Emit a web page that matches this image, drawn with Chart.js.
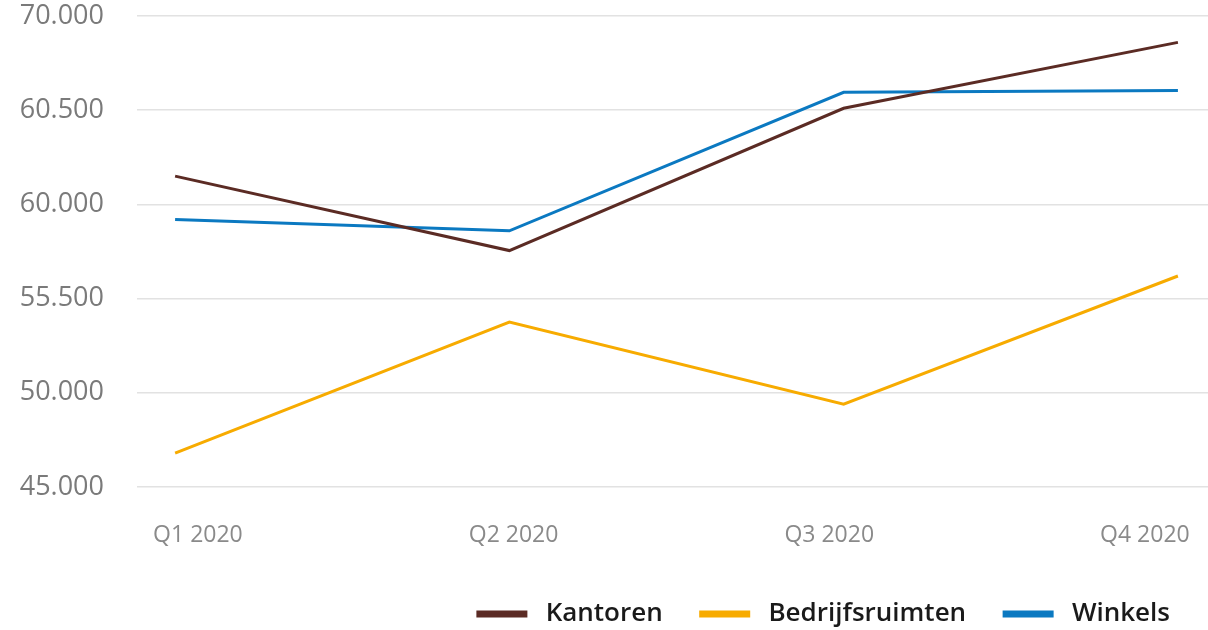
<!DOCTYPE html>
<html>
<head>
<meta charset="utf-8">
<script src="https://cdn.jsdelivr.net/npm/chart.js@4/dist/chart.umd.min.js"></script>
<style>
  html, body { margin: 0; padding: 0; background: #ffffff; }
  #wrap { width: 1208px; height: 630px; position: relative; }
</style>
</head>
<body>
<div id="wrap"><canvas id="rentChart"></canvas></div>
<script>
// chart values
var categories = ['Q1 2020', 'Q2 2020', 'Q3 2020', 'Q4 2020'];
var kantoren = [61500, 57550, 65100, 68600];
var bedrijfsruimten = [46800, 53750, 49400, 56200];
var winkels = [59200, 58600, 65950, 66050];
// tick labels exactly as printed on the original axis
var yTickValues = [45000, 50000, 55000, 60000, 65000, 70000];
var yTickLabels = ['45.000', '50.000', '55.500', '60.000', '60.500', '70.000'];

function toPoints(values) {
    return values.map(function (v, i) { return { x: i, y: v }; });
}

function makeSet(label, values, color) {
    return {
        label: label,
        data: toPoints(values),
        borderColor: color,
        backgroundColor: color,
        borderWidth: 3,
        pointRadius: 0,
        tension: 0
    };
}

function categoryTick(value) {
    return Number.isInteger(value) && categories[value] ? categories[value] : '';
}

var canvas = document.getElementById('rentChart');
var ctx = canvas.getContext('2d');

window.rentChartInstance = new Chart(ctx, {
    type: 'line',
    data: {
        datasets: [
            makeSet('Kantoren', kantoren, '#5b2b24'),
            makeSet('Bedrijfsruimten', bedrijfsruimten, '#f7ab00'),
            makeSet('Winkels', winkels, '#0b79c1')
        ]
    },
    options: {
        responsive: true,
        maintainAspectRatio: false,
        animation: false,
        layout: { padding: { top: 16, left: 0, right: 0, bottom: -7 } },
        plugins: {
            tooltip: { enabled: false },
            legend: {
                position: 'bottom',
                align: 'end',
                labels: {
                    boxWidth: 48,
                    boxHeight: 4,
                    padding: 38,
                    color: '#1a1a1a',
                    font: { family: '"Open Sans", sans-serif', size: 26, weight: '600' },
                    generateLabels: function (chart) {
                        var items = Chart.defaults.plugins.legend.labels.generateLabels(chart);
                        items.forEach(function (it) { it.text = ' ' + it.text; });
                        return items;
                    }
                }
            }
        },
        scales: {
            // data axis, hidden; the quarter labels come from the axis below
            x: {
                type: 'linear',
                display: false,
                min: -0.114,
                max: 3.09
            },
            quarters: {
                type: 'linear',
                position: 'bottom',
                axis: 'x',
                min: -0.193,
                max: 3.2,
                grid: { display: false },
                border: { display: false },
                ticks: {
                    stepSize: 1,
                    includeBounds: false,
                    autoSkip: false,
                    maxRotation: 0,
                    padding: 27,
                    color: '#8a8a8a',
                    font: { family: '"Open Sans", sans-serif', size: 23 },
                    callback: categoryTick
                },
                afterFit: function (scale) {
                    scale.height = 76;
                    scale.paddingLeft = 0;
                    scale.paddingRight = 0;
                }
            },
            y: {
                min: yTickValues[0],
                max: yTickValues[yTickValues.length - 1],
                border: { display: false },
                grid: { color: '#e2e2e2', lineWidth: 1.5, drawTicks: false },
                ticks: {
                    stepSize: 5000,
                    padding: 33,
                    color: '#7a7a7a',
                    font: { family: '"Open Sans", sans-serif', size: 27 },
                    callback: function (value) {
                        var idx = yTickValues.indexOf(value);
                        return idx >= 0 ? yTickLabels[idx] : '';
                    }
                },
                afterFit: function (scale) {
                    scale.width = 137;
                    scale.paddingTop = 0;
                    scale.paddingBottom = 0;
                }
            }
        }
    }
});
</script>
</body>
</html>
